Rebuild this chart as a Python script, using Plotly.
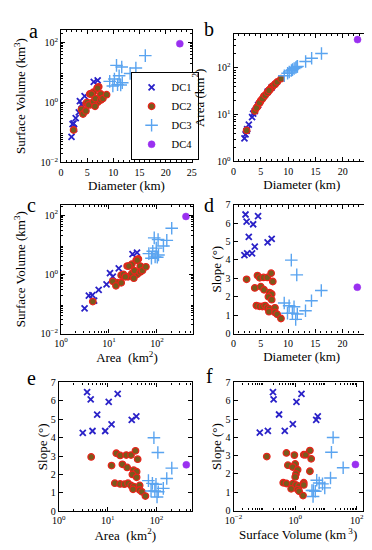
import math
import plotly.graph_objects as go
from plotly.subplots import make_subplots

# ---------------- data ----------------
groups = ["DC1", "DC2", "DC3", "DC4"]

dc1_diameter = [2.2, 2.4, 4.5, 3.6, 2.8, 3.9, 2.0, 2.5, 3.4, 6.25, 7.0]
dc1_area = [3.8, 4.5, 16, 10.5, 6.1, 12, 3.1, 4.9, 8.9, 31, 38.5]
dc1_volume = [0.19, 0.20, 1.6, 1.1, 0.30, 0.84, 0.071, 0.13, 0.46, 4.8, 5.4]
dc1_slope = [6.47, 6.08, 6.38, 5.94, 5.25, 4.72, 4.26, 4.36, 4.36, 4.96, 5.15]

dc2_diameter = [2.4, 4.4, 4.8, 5.5, 6.2, 6.9, 7.2, 3.9, 5.0, 5.6, 6.6, 7.0, 6.4,
                7.0, 4.2, 4.75, 5.3, 5.8, 6.2, 6.6, 7.6, 6.5, 7.6, 8.0, 8.7]
dc2_area = [4.6, 15, 18, 24, 30, 37, 41, 12, 20, 25, 34, 39, 32,
            39, 14, 18, 22, 26, 30, 34, 45, 33, 45, 50, 59]
dc2_volume = [0.12, 0.52, 0.94, 1.9, 2.2, 3.0, 3.3, 0.58, 1.0, 0.83, 1.2, 3.0, 1.06,
              1.0, 0.41, 0.52, 0.83, 1.9, 1.06, 1.34, 1.9, 0.74, 1.2, 1.34, 1.8]
dc2_slope = [2.95, 3.15, 3.03, 3.05, 3.05, 3.28, 2.83, 2.48, 2.55, 2.38, 2.23, 2.15, 2.0,
             1.84, 1.52, 1.48, 1.47, 1.52, 1.40, 1.34, 1.40, 1.19, 1.15, 1.05, 0.82]

dc3_diameter = [10.6, 11.6, 16.1, 14.3, 9.3, 10.2, 11.1, 13.2, 9.9, 10.8, 11.7, 11.4]
dc3_area = [88, 106, 204, 161, 68, 82, 97, 137, 77, 92, 108, 102]
dc3_volume = [17, 15, 36, 14, 5.0, 6.0, 7.7, 9.1, 3.5, 3.9, 4.5, 3.8]
dc3_slope = [3.99, 3.19, 2.34, 1.78, 1.66, 1.51, 1.46, 1.24, 1.1, 1.1, 1.06, 0.77]

dc4_diameter = [22.7]
dc4_area = [404]
dc4_volume = [90]
dc4_slope = [2.52]

panel_letters = ["a", "b", "c", "d", "e", "f"]

# ---------------- styling ----------------
FONT = "Liberation Serif"
W, H = 372, 550

styles = {
    "DC1": dict(symbol="x-thin", size=6, color="#2a22c8",
                line=dict(color="#2a22c8", width=1.8)),
    "DC2": dict(symbol="circle", size=6.5, color="#7a5a1c",
                line=dict(color="#e8241c", width=1.3)),
    "DC3": dict(symbol="cross-thin", size=9, color="#5aa4f0",
                line=dict(color="#5aa4f0", width=1.4)),
    "DC4": dict(symbol="circle", size=7, color="#9a30f0",
                line=dict(color="#9a30f0", width=0.5)),
}

data = {
    "DC1": dict(D=dc1_diameter, A=dc1_area, V=dc1_volume, S=dc1_slope),
    "DC2": dict(D=dc2_diameter, A=dc2_area, V=dc2_volume, S=dc2_slope),
    "DC3": dict(D=dc3_diameter, A=dc3_area, V=dc3_volume, S=dc3_slope),
    "DC4": dict(D=dc4_diameter, A=dc4_area, V=dc4_volume, S=dc4_slope),
}

panels = [("D", "V"), ("D", "A"), ("A", "V"), ("D", "S"), ("A", "S"), ("V", "S")]
log_vars = {"V", "A"}

ML, MR, MT, MB = 2, 2, 2, 2
PW, PH = W - ML - MR, H - MT - MB
boxes = [  # left, right, top, bottom in page pixels
    (45.7, 181.7, 16, 151.7),
    (225, 367, 20.7, 150.7),
    (45.7, 182.7, 195, 326.7),
    (225, 366.7, 195, 326.7),
    (43.3, 181.7, 376.7, 508.3),
    (225, 359.3, 376.7, 507.7),
]
ranges = {
    0: ([0, 25], [-2, 2.42]),
    1: ([0, 25], [0, 2.72]),
    2: ([0, 2.75], [-2, 2.35]),
    3: ([0, 25], [0, 7]),
    4: ([0, 2.72], [0, 7]),
    5: ([-2, 2.19], [0, 7]),
}
y_standoff = [11, 9, 11, 0, 0, 0]
log_powers = {"V": [-2, 0, 2], "A": [0, 1, 2]}

def px2paper_x(px):
    return (px - ML) / PW

def px2paper_y(py):
    return 1 - (py - MT) / PH

fig = make_subplots(rows=3, cols=2)

for i, (xv, yv) in enumerate(panels):
    r, c = i // 2 + 1, i % 2 + 1
    for g in groups:
        st = styles[g]
        fig.add_trace(go.Scatter(
            x=data[g][xv], y=data[g][yv], mode="markers", name=g,
            showlegend=(i == 0),
            marker=dict(symbol=st["symbol"], size=st["size"], color=st["color"],
                        line=st["line"]),
        ), row=r, col=c)

def sup(p):
    return "10<sup>" + (str(p) if p >= 0 else "\u2212" + str(-p)) + "</sup>"

titles = {"D": "Diameter (km)", "V": "Surface Volume (km<sup>3</sup>)",
          "A": "Area  (km<sup>2</sup>)", "S": "Slope (\u00b0)"}

common = dict(showline=True, linecolor="black", linewidth=1.2, mirror="ticks",
              ticks="inside", ticklen=4, tickwidth=1, tickcolor="black",
              showgrid=False, zeroline=False,
              tickfont=dict(family=FONT, size=10, color="black"),
              title_font=dict(family=FONT, size=13, color="black"))
fig.update_xaxes(title_standoff=0, **common)
fig.update_yaxes(**common)

def log_minor_vals(rng):
    vals = []
    for p in range(math.floor(rng[0]), math.ceil(rng[1]) + 1):
        for m in range(2, 10):
            vals.append(m * 10 ** p)
    return vals

for i, (xv, yv) in enumerate(panels):
    r, c = i // 2 + 1, i % 2 + 1
    left, right, top, bottom = boxes[i]
    xdom = [(left - ML) / PW, (right - ML) / PW]
    ydom = [1 - (bottom - MT) / PH, 1 - (top - MT) / PH]
    xr, yr = ranges[i]
    xt = "Surface Volume (km<sup> 3</sup>)" if i == 5 else titles[xv]
    yt = "Area (km<sup>2</sup>)" if i == 1 else titles[yv]
    xkw = dict(domain=xdom, range=xr, title_text=xt)
    ykw = dict(domain=ydom, range=yr, title_text=yt, title_standoff=y_standoff[i])
    if xv in log_vars:
        p = log_powers[xv]
        xkw.update(type="log", tickmode="array", tickvals=[10 ** k for k in p],
                   ticktext=[sup(k) for k in p],
                   minor=dict(ticks="inside", ticklen=2, tickcolor="black",
                              tickmode="array", tickvals=log_minor_vals(xr),
                              showgrid=False))
    else:
        xkw.update(tickmode="linear", tick0=0, dtick=5,
                   minor=dict(ticks="inside", ticklen=2, tickcolor="black",
                              tickmode="linear", tick0=0, dtick=1, showgrid=False))
    if yv in log_vars:
        p = log_powers[yv]
        ykw.update(type="log", tickmode="array", tickvals=[10 ** k for k in p],
                   ticktext=[sup(k) for k in p],
                   minor=dict(ticks="inside", ticklen=2, tickcolor="black",
                              tickmode="array", tickvals=log_minor_vals(yr),
                              showgrid=False))
    else:
        ykw.update(tickmode="linear", tick0=0, dtick=1)
    fig.update_xaxes(row=r, col=c, **xkw)
    fig.update_yaxes(row=r, col=c, **ykw)

letter_pos = [(17, 17), (200, 15), (15, 195), (200, 195), (15, 372), (200, 370)]
annotations = []
for letter, (lx, ly) in zip(panel_letters, letter_pos):
    annotations.append(dict(
        text=letter, x=px2paper_x(lx), y=px2paper_y(ly), xref="paper", yref="paper",
        showarrow=False, xanchor="center", yanchor="middle",
        font=dict(family=FONT, size=20, color="black"),
    ))

fig.update_layout(
    template="simple_white",
    width=W, height=H, margin=dict(l=ML, r=MR, t=MT, b=MB),
    paper_bgcolor="white", plot_bgcolor="white",
    font=dict(family=FONT, size=11, color="black"),
    showlegend=True,
    legend=dict(
        x=px2paper_x(118), y=px2paper_y(149), xanchor="left", yanchor="bottom",
        bordercolor="black", borderwidth=1, bgcolor="white",
        font=dict(family=FONT, size=10.5, color="black"),
        tracegroupgap=0,
    ),
    annotations=annotations,
)

fig.write_html("out.html")
